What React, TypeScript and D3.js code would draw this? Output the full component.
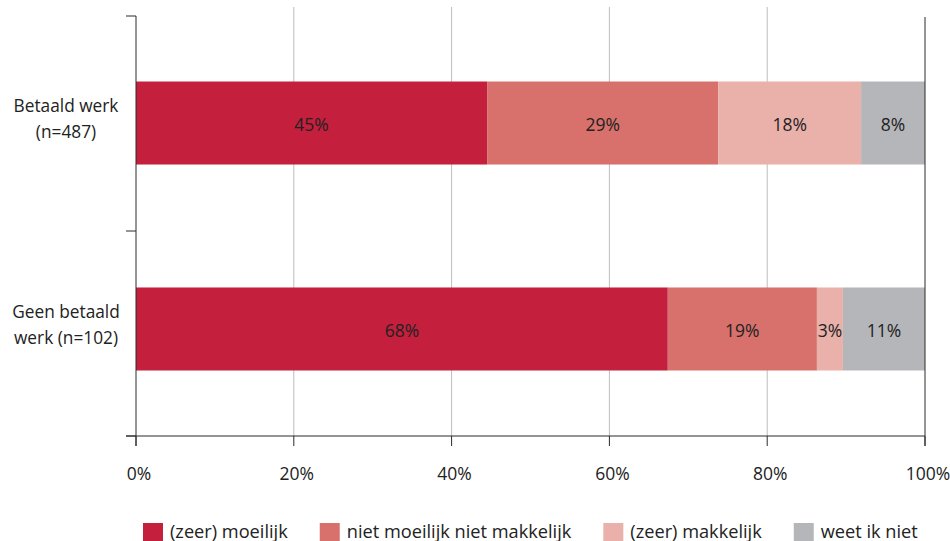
import React, { useEffect, useRef } from "react";
import * as d3 from "d3";

const width = 950;
const height = 541;

const groups = ["Betaald werk|(n=487)", "Geen betaald|werk (n=102)"];
const seriesNames = [
  "(zeer) moeilijk",
  "niet moeilijk niet makkelijk",
  "(zeer) makkelijk",
  "weet ik niet",
];
const colors = ["#C41F3D", "#D8716C", "#E9B1AA", "#B5B6BA"];
// per group, per series (percent)
const betaald = [44.5, 29.3, 18.1, 8.1];
const geenBetaald = [67.4, 18.9, 3.3, 10.4];
const labelsBetaald = ["45%", "29%", "18%", "8%"];
const labelsGeen = ["68%", "19%", "3%", "11%"];
const xTicks = [0, 20, 40, 60, 80, 100];

const font = "'Open Sans', Lato, sans-serif";

const App = () => {
  const ref = useRef<SVGSVGElement>(null);

  useEffect(() => {
    const svg = d3.select(ref.current);
    svg.selectAll("*").remove();

    const left = 136;
    const right = 925;
    const top = 16;
    const bottom = 436;

    const x = d3.scaleLinear().domain([0, 100]).range([left, right]);
    const y = d3
      .scaleBand()
      .domain(groups)
      .range([top, bottom])
      .paddingInner(0.597)
      .paddingOuter(0.318);

    const rows = [
      { g: groups[0], vals: betaald, labels: labelsBetaald },
      { g: groups[1], vals: geenBetaald, labels: labelsGeen },
    ];

    const textColor = "#222";

    // gridlines
    svg
      .append("g")
      .selectAll("line")
      .data(xTicks.slice(1, -1))
      .enter()
      .append("line")
      .attr("x1", (d) => x(d))
      .attr("x2", (d) => x(d))
      .attr("y1", 7)
      .attr("y2", bottom)
      .attr("stroke", "#bdbdbd")
      .attr("stroke-width", 1);

    // bars
    rows.forEach((row) => {
      const stack = d3.cumsum(row.vals);
      const segs = row.vals.map((v, i) => ({
        x0: stack[i] - v,
        x1: stack[i],
        color: colors[i],
        label: row.labels[i],
      }));
      const g = svg.append("g");
      g.selectAll("rect")
        .data(segs)
        .enter()
        .append("rect")
        .attr("x", (d) => x(d.x0))
        .attr("y", y(row.g)!)
        .attr("width", (d) => x(d.x1) - x(d.x0))
        .attr("height", y.bandwidth())
        .attr("fill", (d) => d.color);
      g.selectAll("text")
        .data(segs)
        .enter()
        .append("text")
        .attr("x", (d) => (x(d.x0) + x(d.x1)) / 2)
        .attr("y", y(row.g)! + y.bandwidth() / 2 + 8)
        .attr("text-anchor", "middle")
        .attr("fill", textColor)
        .style("font", `17.5px ${font}`)
        .text((d) => d.label);
    });

    const axisColor = "#2a2a2a";

    // 100% line
    svg
      .append("line")
      .attr("x1", x(100))
      .attr("x2", x(100))
      .attr("y1", 17)
      .attr("y2", bottom + 10)
      .attr("stroke", axisColor);

    // y axis
    svg
      .append("line")
      .attr("x1", left)
      .attr("x2", left)
      .attr("y1", top)
      .attr("y2", bottom + 10)
      .attr("stroke", axisColor);
    const yBounds = [top, 231, bottom];
    svg
      .append("g")
      .selectAll("line")
      .data(yBounds)
      .enter()
      .append("line")
      .attr("x1", left - 10)
      .attr("x2", left)
      .attr("y1", (d) => d)
      .attr("y2", (d) => d)
      .attr("stroke", axisColor);

    // x axis
    svg
      .append("line")
      .attr("x1", left - 10)
      .attr("x2", right)
      .attr("y1", bottom)
      .attr("y2", bottom)
      .attr("stroke", axisColor);
    const xt = svg.append("g");
    xt.selectAll("line")
      .data(xTicks)
      .enter()
      .append("line")
      .attr("x1", (d) => x(d))
      .attr("x2", (d) => x(d))
      .attr("y1", bottom)
      .attr("y2", bottom + 10)
      .attr("stroke", axisColor);
    xt.selectAll("text")
      .data(xTicks)
      .enter()
      .append("text")
      .attr("x", (d) => x(d) + 3)
      .attr("y", 480)
      .attr("text-anchor", "middle")
      .attr("fill", textColor)
      .style("font", `17.5px ${font}`)
      .text((d) => d + "%");

    // category labels
    groups.forEach((gname) => {
      const lines = gname.split("|");
      const cy = y(gname)! + y.bandwidth() / 2;
      const t = svg
        .append("text")
        .attr("text-anchor", "middle")
        .attr("fill", textColor)
        .style("font", `17.3px ${font}`);
      lines.forEach((l, i) => {
        t.append("tspan")
          .attr("x", 66)
          .attr("y", cy - 11 + i * 26)
          .text(l);
      });
    });

    // legend
    const lg = svg.append("g");
    const items = seriesNames.map((name, i) => {
      const it = lg.append("g");
      it.append("rect")
        .attr("width", 20)
        .attr("height", 20)
        .attr("y", 523)
        .attr("fill", colors[i]);
      const txt = it
        .append("text")
        .attr("x", 27)
        .attr("y", 538)
        .attr("fill", textColor)
        .style("font", `18.2px ${font}`)
        .text(name);
      const w = 27 + (txt.node() as SVGTextElement).getComputedTextLength();
      return { it, w };
    });
    const gap = 32;
    let cx = 143;
    items.forEach((d) => {
      d.it.attr("transform", `translate(${cx},0)`);
      cx += d.w + gap;
    });
  }, []);

  return (
    <svg
      ref={ref}
      width={width}
      height={height}
      viewBox={`0 0 ${width} ${height}`}
      style={{ display: "block", position: "absolute", left: 0, top: 0, background: "#fff" }}
    ></svg>
  );
};

export default App;
